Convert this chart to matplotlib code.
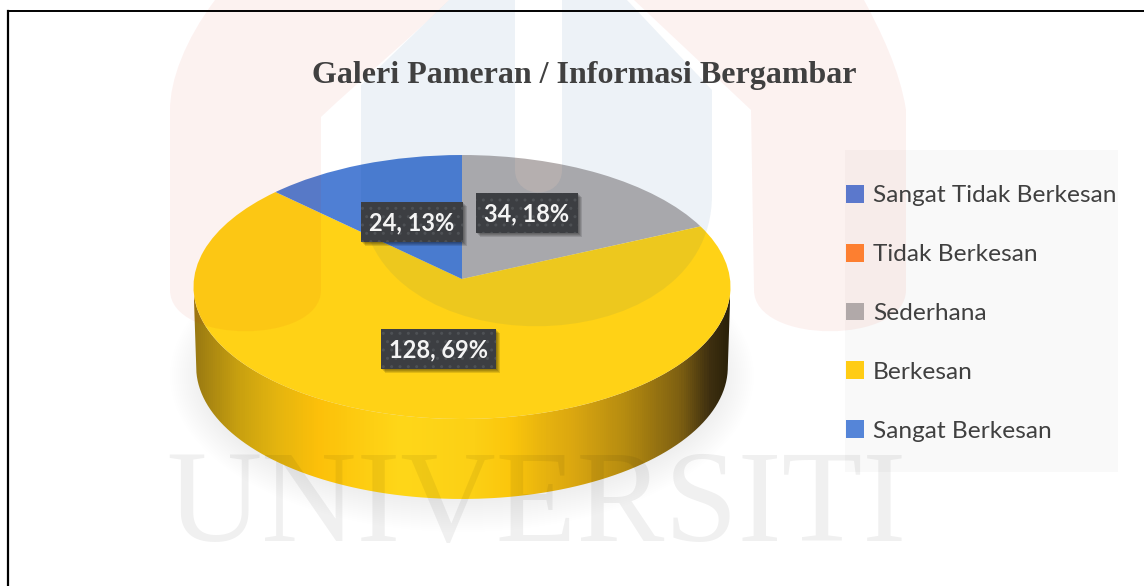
import numpy as np
import matplotlib
matplotlib.use("Agg")
import matplotlib.pyplot as plt
from matplotlib.colors import LinearSegmentedColormap
from matplotlib.patches import Ellipse, Patch, PathPatch, Rectangle
from matplotlib.path import Path
from matplotlib.transforms import Affine2D, Transform

title = "Galeri Pameran / Informasi Bergambar"
categories = ["Sangat Tidak Berkesan", "Tidak Berkesan", "Sederhana", "Berkesan", "Sangat Berkesan"]
values = [0, 0, 34, 128, 24]
slice_colors = ["#5b78cc", "#fd7f30", "#b5afaf", "#ffd216", "#4f7fd4"]
legend_colors = ["#5b78cc", "#fd7f30", "#b1a9a9", "#ffcc14", "#5585d8"]
label_boxes = {2: (476, 193), 3: (381, 329), 4: (361, 202)}

W, H = 1144, 586
CX, CY = 462, 279
RX, RY = 268, 131.5
TILT = 0.0606
DEPTH = 80


class Tilt(Transform):
    # slight perspective so the far half of the disc looks shorter
    input_dims = 2
    output_dims = 2
    is_separable = False

    def transform_non_affine(self, xy):
        xy = np.asarray(xy, dtype=float)
        d = 1 + TILT * xy[:, 1:2]
        return xy / d


fig = plt.figure(figsize=(W / 100, H / 100), dpi=100)
ax = fig.add_axes([0, 0, 1, 1])

tilt = Tilt() + Affine2D().scale(RX, -RY).translate(CX, CY)

# soft shadow under the disc
for g in np.arange(36, 0, -2):
    ax.add_patch(Ellipse((CX, 376), 2 * (256 + g), 2 * (120 + g), fc="k", ec="none", alpha=0.0035, zorder=1))

# side wall with its horizontal shading
t = np.linspace(0, 2 * np.pi, 400)
rim = tilt.transform(np.column_stack([np.cos(t), np.sin(t)]))
left, right = rim[:, 0].argmin(), rim[:, 0].argmax()
lower = rim[rim[:, 1] > rim[left, 1]]
lower = lower[np.argsort(lower[:, 0])]
low_wall = lower.copy()
low_wall[:, 0] = CX + (low_wall[:, 0] - CX) * 0.99
low_wall[:, 1] += DEPTH
wall = np.vstack([rim[left], low_wall, rim[right], lower[::-1]])
stops = [(194, "#9a7a12"), (237, "#c8a010"), (274, "#e3b40f"), (317, "#fcc00a"), (347, "#fdc90f"),
         (401, "#ffd719"), (474, "#fcd015"), (511, "#fbc60c"), (547, "#e6b20f"), (572, "#dca810"),
         (627, "#b58b10"), (681, "#7e6012"), (711, "#3e2f10"), (730, "#2c2209")]
cmap = LinearSegmentedColormap.from_list("wall", [((x - 194) / 536, c) for x, c in stops])
img = ax.imshow(np.linspace(0, 1, 536)[None, :], cmap=cmap, extent=(194, 730, 505, 280), aspect="auto", zorder=2)
img.set_clip_path(PathPatch(Path(wall), transform=ax.transData))

# top face
wedges, _ = ax.pie(values, colors=slice_colors, startangle=90, counterclock=False, radius=1,
                   wedgeprops={"linewidth": 0, "zorder": 3})
for w in wedges:
    w.set_transform(tilt + ax.transData)
ax.set_aspect("auto")
ax.set_xlim(0, W)
ax.set_ylim(H, 0)
ax.axis("on")
ax.set_xticks([])
ax.set_yticks([])
for s in ax.spines.values():
    s.set_visible(False)

# legend backing
ax.add_patch(Rectangle((845, 150), 273, 322, fc="k", ec="none", alpha=0.025, zorder=3.5))

# watermark, lies over the chart
M, L, C = Path.MOVETO, Path.LINETO, Path.CURVE4
red_left = Path([(215, 0), (185, 40), (170, 80), (170, 110), (170, 290), (170, 345), (321, 345), (321, 290),
                 (321, 117), (360, 80), (420, 30), (449, 0), (215, 0)],
                [M, C, C, C, L, C, C, C, L, C, C, C, L])
red_right = Path([(634, 0), (751, 110), (754, 290), (754, 345), (906, 345), (906, 290), (906, 110),
                  (900, 70), (880, 30), (864, 0), (634, 0)],
                 [M, L, L, C, C, C, L, C, C, C, L])
blue = Path([(449, 0), (361, 85), (361, 195), (361, 370), (712, 370), (712, 195), (712, 90), (627, 0), (562, 0),
             (562, 170), (562, 200), (515, 200), (515, 170), (515, 0), (449, 0)],
            [M, L, L, C, C, C, L, L, L, L, C, C, C, L, L])
for p in (red_left, red_right):
    ax.add_patch(PathPatch(p, fc=(0.86, 0.14, 0.0), ec="none", alpha=0.06, zorder=4))
ax.add_patch(PathPatch(blue, fc=(0.0, 0.31, 0.56), ec="none", alpha=0.07, zorder=4))
ax.text(536, 509, "UNIVERSITI", family="Liberation Serif", fontsize=95, color="k", alpha=0.06,
        ha="center", va="center", zorder=4)

# frame lines at the top and left of the picture
ax.plot([8, 8], [586, 11], color="k", lw=1.6, zorder=5, solid_capstyle="projecting")
ax.plot([8, 1144], [11, 11], color="k", lw=1.4, zorder=5)

ax.text(584.5, 76, title, family="Liberation Serif", weight="bold", fontsize=23, color="#404040",
        ha="center", va="center", zorder=6)

# data labels
total = sum(values)
for i, (bx, by) in label_boxes.items():
    bw = 115 if values[i] >= 100 else 102
    for k in range(4):
        ax.add_patch(Rectangle((bx + 1 + k, by + 1 + k), bw, 40, fc="k", ec="none", alpha=0.12, zorder=6))
    ax.add_patch(Rectangle((bx, by), bw, 40, fc="#3c3e42", ec="#4e5155", hatch="..", lw=0, zorder=7))
    ax.text(bx + bw / 2, by + 21, f"{values[i]}, {round(values[i] / total * 100)}%", family="Lato", weight="bold",
            fontsize=17, color="#f4f4f4", ha="center", va="center", zorder=8)

handles = [Patch(fc=c, ec="none") for c in legend_colors]
leg = ax.legend(handles, categories, loc="upper left", bbox_to_anchor=(846, 185), bbox_transform=ax.transData,
                frameon=False, labelcolor="#404040", prop={"family": "Lato", "size": 17.6},
                handlelength=0.74, handleheight=0.74, handletextpad=0.37, labelspacing=1.53,
                borderpad=0, borderaxespad=0)
leg.set_zorder(6)

fig.savefig("out.png", dpi=100)
